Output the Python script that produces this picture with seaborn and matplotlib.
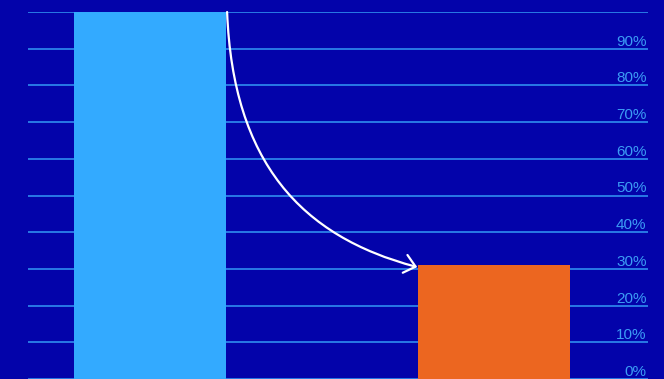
import matplotlib
matplotlib.use("Agg")
import matplotlib.pyplot as plt
from matplotlib.patches import FancyArrowPatch
from matplotlib.path import Path
import seaborn as sns

# Chart data
categories = ["Before", "After"]
values = [100, 31]
bar_colors = ["#33AAFF", "#EC6620"]
tick_values = [0, 10, 20, 30, 40, 50, 60, 70, 80, 90, 100]
tick_labels = ["0%", "10%", "20%", "30%", "40%", "50%", "60%", "70%", "80%", "90%", ""]

bg = "#0303AA"
grid_color = "#2F8CF0"
label_color = "#3C9CF5"
bar_width = 0.442

sns.set_theme(style="white")
plt.rcParams["font.family"] = ["Liberation Sans", "DejaVu Sans"]

fig = plt.figure(figsize=(6.64, 3.79), dpi=100, facecolor=bg)
ax = fig.add_axes([28 / 664, 0, 620 / 664, 367 / 379])
ax.set_facecolor(bg)

sns.barplot(x=categories, y=values, hue=categories, palette=bar_colors,
            saturation=1, width=bar_width, linewidth=0, legend=False, ax=ax, zorder=3)

ax.set_xlim(-0.355, 1.448)
ax.set_ylim(0, 100)
ax.set_yticks(tick_values)
ax.set_yticklabels(tick_labels)
ax.yaxis.tick_right()
ax.tick_params(axis="y", length=0, pad=-1, labelsize=11, labelcolor=label_color)
for lbl in ax.get_yticklabels():
    lbl.set_horizontalalignment("right")
    lbl.set_verticalalignment("bottom")
ax.set_xticks([])
ax.set_xlabel("")
ax.set_ylabel("")
ax.grid(axis="y", color=grid_color, linewidth=1.2, zorder=0)
ax.set_axisbelow(True)
for s in ax.spines.values():
    s.set_visible(False)

# curved arrow from top-right corner of first bar to top-left of second bar
x0, y0 = 0 + bar_width / 2 + 0.003, values[0]
x1, y1 = 1 - bar_width / 2 - 0.002, values[1] - 0.5
dx, dy = x1 - x0, y0 - y1
verts = [(x0, y0), (x0 + 0.031 * dx, y0 - 0.59 * dy),
         (x1 - 0.61 * dx, y1 + 0.12 * dy), (x1, y1)]
codes = [Path.MOVETO, Path.CURVE4, Path.CURVE4, Path.CURVE4]
arrow = FancyArrowPatch(path=Path(verts, codes),
                        arrowstyle="->,head_length=0.39,head_width=0.33",
                        mutation_scale=20, color="white", lw=1.6, zorder=4,
                        transform=ax.transData, clip_on=False)
ax.add_patch(arrow)

fig.savefig("out.png", dpi=100, facecolor=bg)
